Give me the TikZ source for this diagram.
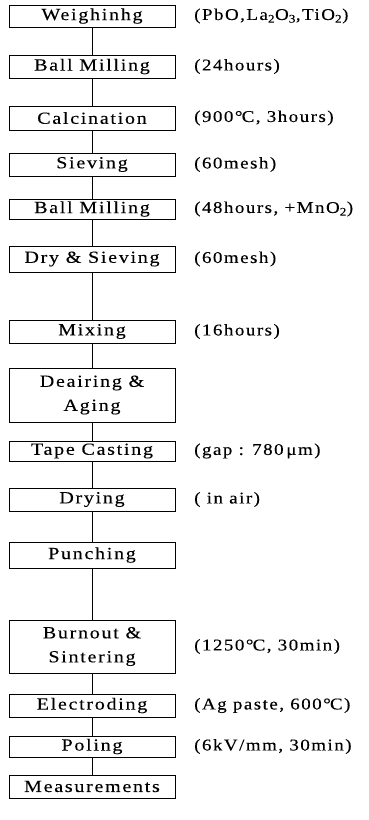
\documentclass[tikz,border=0pt]{standalone}
\usepackage{fontspec}
\setmainfont{Liberation Serif}[FakeStretch=1.15,LetterSpace=9,FakeBold=0.15]
\newfontfamily\boxfont{Liberation Serif}[FakeStretch=1.18,LetterSpace=10,FakeBold=0.15]
\begin{document}
\begin{tikzpicture}[x=1pt,y=-1pt,
  stepbox/.style={draw,line width=0.9pt,rectangle,inner sep=0pt,minimum width=166pt,align=center,font=\boxfont\fontsize{17}{24}\selectfont},
  note/.style={anchor=west,inner sep=0pt,font=\fontsize{16.5}{18}\selectfont},
  link/.style={line width=0.9pt}]
\useasboundingbox (0,0) rectangle (368,820);
\node[stepbox,minimum height=22pt] (b1) at (92,16) {Weighinhg};
\node[stepbox,minimum height=23pt] (b2) at (92,66.5) {Ball Milling};
\node[stepbox,minimum height=24pt] (b3) at (92,118) {Calcination};
\node[stepbox,minimum height=23pt] (b4) at (92,164.5) {Sieving};
\node[stepbox,minimum height=20pt] (b5) at (92,209) {Ball Milling};
\node[stepbox,minimum height=26pt] (b6) at (92,259) {Dry \& Sieving};
\node[stepbox,minimum height=23pt] (b7) at (92,331.5) {Mixing};
\node[stepbox,minimum height=54pt] (b8) at (92,395) {Deairing \&\\Aging};
\node[stepbox,minimum height=20pt] (b9) at (92,451) {Tape Casting};
\node[stepbox,minimum height=23pt] (b10) at (92,499.5) {Drying};
\node[stepbox,minimum height=26pt] (b11) at (92,555) {Punching};
\node[stepbox,minimum height=53pt] (b12) at (92,646.5) {Burnout \&\\Sintering};
\node[stepbox,minimum height=23pt] (b13) at (92,705.5) {Electroding};
\node[stepbox,minimum height=21pt] (b14) at (92,746.5) {Poling};
\node[stepbox,minimum height=23pt] (b15) at (92,786.5) {Measurements};
\foreach \i/\j in {1/2,2/3,3/4,4/5,5/6,6/7,7/8,8/9,9/10,10/11,11/12,12/13,13/14,14/15}
  \draw[link] (b\i) -- (b\j);
\node[note] (n1) at (194,16) {(PbO,La\textsubscript{2}O\textsubscript{3},TiO\textsubscript{2})};
\node[note] (n2) at (194,66.5) {(24hours)};
\node[note] (n3) at (194,118) {(900°\kern-0.05em C, 3hours)};
\node[note] (n4) at (194,164.5) {(60mesh)};
\node[note] (n5) at (194,209) {(48hours, +MnO\textsubscript{2})};
\node[note] (n6) at (194,259) {(60mesh)};
\node[note] (n7) at (194,331.5) {(16hours)};
\node[note] (n9) at (194,451) {(gap : 780\,μm)};
\node[note] (n10) at (194,499.5) {( in air)};
\node[note] (n12) at (194,646.5) {(1250°\kern-0.05em C, 30min)};
\node[note] (n13) at (194,705.5) {(Ag paste, 600°\kern-0.05em C)};
\node[note] (n14) at (194,746.5) {(6kV/mm, 30min)};
\end{tikzpicture}
\end{document}
